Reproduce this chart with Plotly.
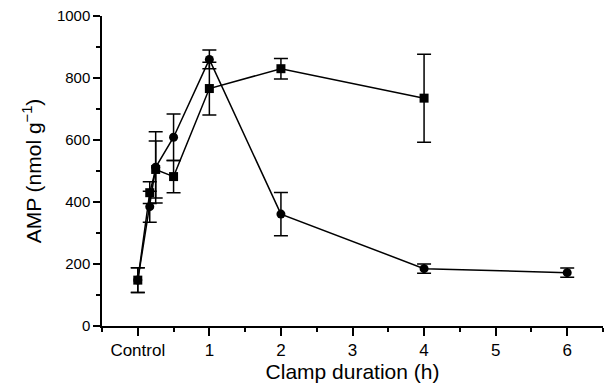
import plotly.graph_objects as go

# Data (x in hours; 0 = Control)
x_circle = [0, 0.167, 0.25, 0.5, 1, 2, 4, 6]
amp_circle = [148, 385, 512, 609, 860, 361, 185, 172]
err_circle = [40, 50, 115, 75, 30, 70, 15, 15]

x_square = [0, 0.167, 0.25, 0.5, 1, 2, 4]
amp_square = [148, 430, 505, 482, 766, 830, 735]
err_square = [40, 35, 92, 52, 85, 33, 142]

tick_vals = [0, 1, 2, 3, 4, 5, 6]
tick_text = ["Control", "1", "2", "3", "4", "5", "6"]

FONT = "Liberation Sans, Arial, Helvetica, sans-serif"

fig = go.Figure()
fig.add_trace(go.Scatter(
    x=x_square, y=amp_square, mode="lines+markers",
    line=dict(color="black", width=1.5),
    marker=dict(symbol="square", size=9, color="black"),
    error_y=dict(type="data", array=err_square, visible=True, color="black", thickness=1.5, width=7),
    showlegend=False,
))
fig.add_trace(go.Scatter(
    x=x_circle, y=amp_circle, mode="lines+markers",
    line=dict(color="black", width=1.5),
    marker=dict(symbol="circle", size=9, color="black"),
    error_y=dict(type="data", array=err_circle, visible=True, color="black", thickness=1.5, width=7),
    showlegend=False,
))

fig.update_layout(
    width=608, height=388,
    margin=dict(l=102, r=5, t=16, b=62),
    paper_bgcolor="white", plot_bgcolor="white",
    font=dict(family=FONT, size=16, color="black"),
    xaxis=dict(
        range=[-0.5, 6.5], tickvals=tick_vals, ticktext=tick_text,
        showline=True, linecolor="black", linewidth=1.5,
        ticks="outside", ticklen=8, tickwidth=1.5, tickcolor="black",
        minor=dict(dtick=0.5, tick0=0, ticks="outside", ticklen=4, tickwidth=1.5, tickcolor="black"),
        showgrid=False, zeroline=False, automargin=False,
        tickfont=dict(size=17),
        title=dict(text="Clamp duration (h)", font=dict(size=21), standoff=2),
    ),
    yaxis=dict(
        range=[0, 1000], tickvals=[0, 200, 400, 600, 800, 1000],
        showline=True, linecolor="black", linewidth=1.5,
        ticks="outside", ticklen=7, tickwidth=1.5, tickcolor="black",
        minor=dict(dtick=100, ticks="outside", ticklen=4, tickwidth=1.5, tickcolor="black"),
        showgrid=False, zeroline=False, automargin=False,
        tickfont=dict(size=15),
        title=dict(text="AMP (nmol g<sup>−1</sup>)", font=dict(size=21), standoff=10),
    ),
)

fig.write_html("out.html", config={"displayModeBar": False},
               post_script="document.body.style.margin='0';")
